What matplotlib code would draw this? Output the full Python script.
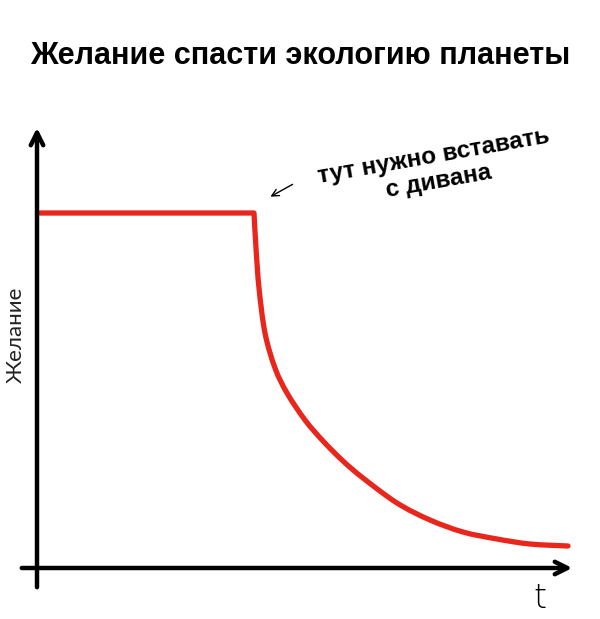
import matplotlib
matplotlib.use("Agg")
import matplotlib.pyplot as plt
from matplotlib.path import Path
from matplotlib.patches import PathPatch
import numpy as np

# Data (time vs desire)
t_flat = [3, 217]
desire_flat = [355, 355]
t_curve = [217, 219, 222, 228, 238, 250, 268, 286, 306, 326, 360, 393, 426, 460, 493, 531]
desire_curve = [355, 320, 280, 235, 200, 175, 148, 127, 107, 90, 65, 48, 36, 29, 24, 22]

title = "Желание спасти экологию планеты"
ylabel = "Желание"
xlabel = "t"
note = "тут нужно вставать\nс дивана"

fig = plt.figure(figsize=(6, 6.19), dpi=100)
ax = fig.add_axes([0, 0, 1, 1])
ax.set_xlim(-37, 563)
ax.set_ylim(-51, 568)
ax.axis("off")

red = "#e8261c"

# smooth path through the read points (Catmull-Rom -> cubic Bezier segments)
pts = np.column_stack([t_flat + t_curve[1:], desire_flat + desire_curve[1:]]).astype(float)
verts = [pts[0], pts[1]]
codes = [Path.MOVETO, Path.LINETO]
cp = pts[1:]
for i in range(len(cp) - 1):
    p0 = cp[i - 1] if i > 0 else cp[i]
    p1, p2 = cp[i], cp[i + 1]
    p3 = cp[i + 2] if i + 2 < len(cp) else cp[i + 1]
    c1 = p1 + (p2 - p0) / 6.0
    c2 = p2 - (p3 - p1) / 6.0
    verts += [c1, c2, p2]
    codes += [Path.CURVE4] * 3
patch = PathPatch(Path(verts, codes), facecolor="none", edgecolor=red, lw=3.8,
                  capstyle="round", joinstyle="round")
ax.add_patch(patch)

# axes arrows
ax.annotate("", xy=(538, 0), xytext=(-18, 0),
            arrowprops=dict(arrowstyle="->,head_length=0.9,head_width=0.45", lw=3.2, color="black"))
ax.annotate("", xy=(0, 443), xytext=(0, -22),
            arrowprops=dict(arrowstyle="->,head_length=0.9,head_width=0.45", lw=3.2, color="black"))

fig.text(0.5, 1 - 56/619, title, ha="center", va="center", fontsize=22,
         fontweight="bold", family="Liberation Sans")
ax.text(-21, 233, ylabel, rotation=90, ha="center", va="center", fontsize=16,
        family="Lato", color="#222222")
ax.text(503, -30, xlabel, ha="center", va="center", fontsize=24,
        family="DejaVu Sans", fontweight="light")
ax.text(399, 399, note, ha="center", va="center", fontsize=17.5, rotation=10,
        family="Liberation Sans", fontweight="bold", linespacing=1.15)
ax.annotate("", xy=(231, 370), xytext=(258, 385),
            arrowprops=dict(arrowstyle="->,head_length=0.5,head_width=0.25", lw=1.0, color="black"))

fig.savefig("out.png", dpi=100, facecolor="white")
